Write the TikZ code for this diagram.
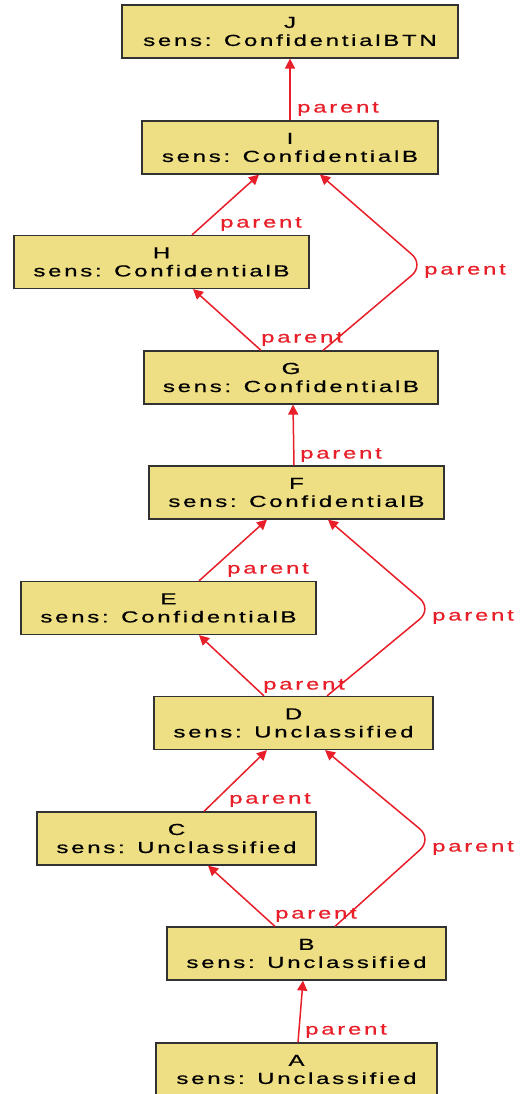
\documentclass[tikz,border=0pt]{standalone}
\usepackage{fontspec}
\setmainfont{Liberation Sans}[FakeStretch=1.5,LetterSpace=17,FakeBold=0.6]
\usetikzlibrary{arrows.meta}
\definecolor{boxfill}{RGB}{238,222,132}
\definecolor{boxline}{RGB}{50,50,50}
\definecolor{edgered}{RGB}{232,30,40}
\begin{document}
\begin{tikzpicture}[x=1pt,y=-1pt,
 box/.style={draw=boxline, line width=1.2pt, fill=boxfill, minimum height=53pt, inner sep=0pt, align=center, font=\fontsize{16}{18}\selectfont, text=black},
 edge/.style={draw=edgered, line width=1.5pt, rounded corners=16pt, -{Triangle[length=10pt,width=10pt]}},
 lbl/.style={text=edgered, font=\fontsize{16}{18}\selectfont, anchor=west, inner sep=0pt}]
\useasboundingbox (0,0) rectangle (524,1094);
\fill[white] (0,0) rectangle (524,1094);
% nodes
\node[box, minimum width=336pt] (J) at (290,31.5) {J\\sens: ConfidentialBTN};
\node[box, minimum width=296pt] (I) at (290,147.5) {I\\sens: ConfidentialB};
\node[box, minimum width=295pt] (H) at (161.5,262) {H\\sens: ConfidentialB};
\node[box, minimum width=294pt] (G) at (291,377.5) {G\\sens: ConfidentialB};
\node[box, minimum width=295pt] (F) at (296.5,492.5) {F\\sens: ConfidentialB};
\node[box, minimum width=295pt] (E) at (168.5,608) {E\\sens: ConfidentialB};
\node[box, minimum width=279pt] (D) at (293.5,723) {D\\sens: Unclassified};
\node[box, minimum width=279pt] (C) at (176.5,838.5) {C\\sens: Unclassified};
\node[box, minimum width=279pt] (B) at (306.5,953.5) {B\\sens: Unclassified};
\node[box, minimum width=281pt] (A) at (296.5,1069.5) {A\\sens: Unclassified};
% bend points
\coordinate (gi) at (424,265);
\coordinate (df) at (432,609);
\coordinate (bd) at (432,839);
% edges
\draw[edge] (I.north) -- (J.south);
\draw[edge] ([xshift=30.5pt]H.north) -- ([xshift=-31pt]I.south);
\draw[edge] ([xshift=-30pt]G.north) -- ([xshift=31.5pt]H.south);
\draw[edge] ([xshift=32pt]G.north) -- (gi) -- ([xshift=30pt]I.south);
\draw[edge] ([xshift=-2.5pt]F.north) -- ([xshift=2pt]G.south);
\draw[edge] ([xshift=30.5pt]E.north) -- ([xshift=-29.5pt]F.south);
\draw[edge] ([xshift=-29.5pt]D.north) -- ([xshift=30.5pt]E.south);
\draw[edge] ([xshift=33.5pt]D.north) -- (df) -- ([xshift=31.5pt]F.south);
\draw[edge] ([xshift=27.5pt]C.north) -- ([xshift=-26.5pt]D.south);
\draw[edge] ([xshift=-31.5pt]B.north) -- ([xshift=31.5pt]C.south);
\draw[edge] ([xshift=28.5pt]B.north) -- (bd) -- ([xshift=31.5pt]D.south);
\draw[edge] ([xshift=1.5pt]A.north) -- ([xshift=-3.5pt]B.south);
% labels
\node[lbl] (l1) at (297,109) {parent};
\node[lbl] (l2) at (220,224) {parent};
\node[lbl] (l3) at (261,339) {parent};
\node[lbl] (l4) at (424,271) {parent};
\node[lbl] (l5) at (300,455) {parent};
\node[lbl] (l6) at (227,570) {parent};
\node[lbl] (l7) at (432,617) {parent};
\node[lbl] (l8) at (263,686) {parent};
\node[lbl] (l9) at (229,800) {parent};
\node[lbl] (l10) at (432,848) {parent};
\node[lbl] (l11) at (275,915) {parent};
\node[lbl] (l12) at (305,1031) {parent};
\end{tikzpicture}
\end{document}
